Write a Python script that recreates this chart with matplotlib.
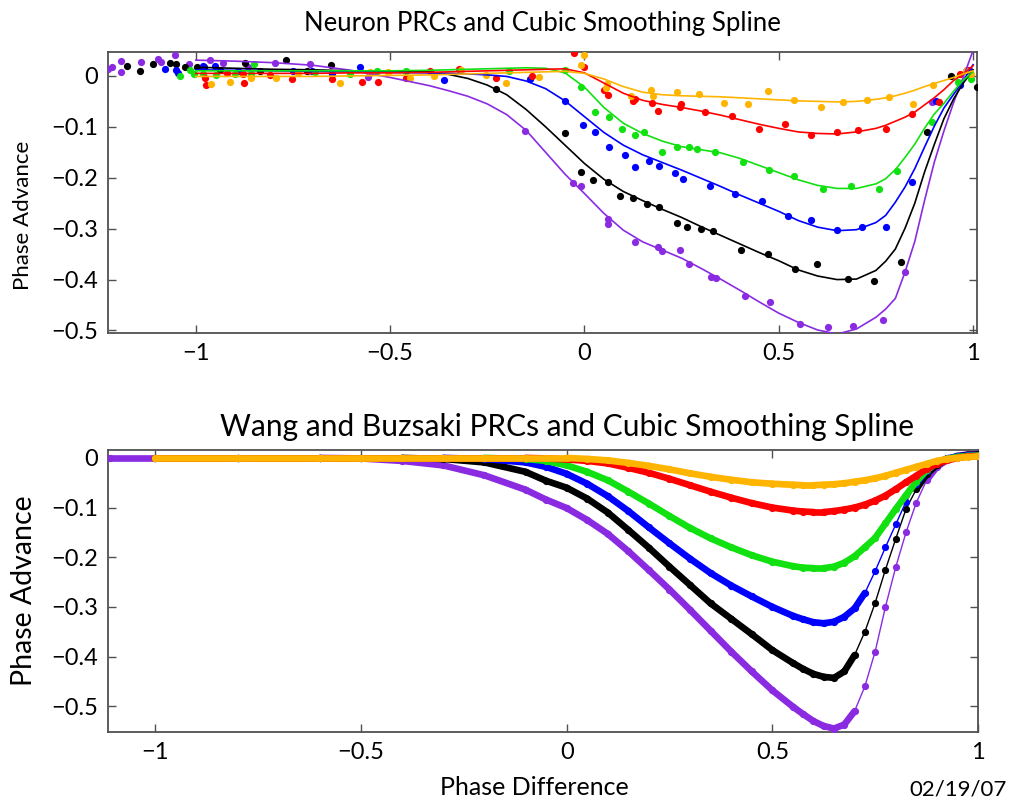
import matplotlib
matplotlib.use("Agg")
import matplotlib.pyplot as plt
import numpy as np

plt.rcParams['font.family'] = ['Lato', 'DejaVu Sans']

# ---------------- colours ----------------
PURPLE = '#8a2be2'
BLACK = '#000000'
BLUE = '#0000ff'
GREEN = '#11e011'
RED = '#ff0000'
ORANGE = '#ffb400'

# ---------------- top panel: spline curves ----------------
top_x = [-1.0, -0.9, -0.8, -0.7, -0.6, -0.5, -0.4, -0.35, -0.3, -0.25, -0.2, -0.15, -0.1, -0.05,
         0.0, 0.05, 0.1, 0.15, 0.2, 0.25, 0.3, 0.35, 0.4, 0.45, 0.5, 0.55, 0.6, 0.65, 0.7, 0.75,
         0.775, 0.8, 0.825, 0.85, 0.875, 0.9, 0.925, 0.95, 0.975, 1.0]
top_purple = [0.031, 0.029, 0.026, 0.021, 0.011, -0.003, -0.019, -0.029, -0.040, -0.055, -0.076, -0.107, -0.150, -0.193,
              -0.231, -0.270, -0.303, -0.326, -0.342, -0.358, -0.378, -0.399, -0.421, -0.444, -0.466, -0.484, -0.499, -0.507, -0.497, -0.474,
              -0.458, -0.437, -0.385, -0.325, -0.245, -0.170, -0.108, -0.052, -0.002, 0.050]
top_black = [0.017, 0.015, 0.013, 0.012, 0.010, 0.009, 0.008, 0.003, -0.005, -0.018, -0.037, -0.066, -0.100, -0.136,
             -0.172, -0.203, -0.227, -0.245, -0.262, -0.278, -0.296, -0.313, -0.330, -0.347, -0.363, -0.381, -0.393, -0.400, -0.399, -0.382,
             -0.364, -0.340, -0.299, -0.250, -0.189, -0.135, -0.084, -0.045, -0.014, 0.012]
top_blue = [0.012, 0.011, 0.010, 0.009, 0.008, 0.007, 0.006, 0.005, 0.004, 0.002, -0.001, -0.010, -0.025, -0.049,
            -0.080, -0.111, -0.136, -0.155, -0.170, -0.185, -0.201, -0.217, -0.234, -0.250, -0.266, -0.284, -0.297, -0.304, -0.302, -0.288,
            -0.274, -0.248, -0.218, -0.182, -0.140, -0.099, -0.063, -0.036, -0.009, 0.022]
top_green = [0.010, 0.010, 0.010, 0.010, 0.010, 0.010, 0.011, 0.012, 0.013, 0.014, 0.015, 0.016, 0.015, 0.006,
             -0.022, -0.062, -0.093, -0.113, -0.128, -0.139, -0.145, -0.151, -0.162, -0.176, -0.190, -0.204, -0.215, -0.221, -0.221, -0.212,
             -0.202, -0.184, -0.160, -0.134, -0.103, -0.075, -0.054, -0.030, -0.008, 0.008]
top_red = [0.005, 0.005, 0.005, 0.005, 0.006, 0.006, 0.007, 0.008, 0.009, 0.010, 0.011, 0.012, 0.013, 0.014,
           0.006, -0.014, -0.034, -0.048, -0.056, -0.062, -0.069, -0.077, -0.086, -0.095, -0.103, -0.110, -0.113, -0.114, -0.110, -0.103,
           -0.097, -0.089, -0.081, -0.071, -0.057, -0.043, -0.027, -0.009, 0.004, 0.020]
top_orange = [-0.001, -0.001, -0.001, -0.001, 0.000, 0.001, 0.002, 0.003, 0.004, 0.005, 0.006, 0.007, 0.008, 0.009,
              0.005, -0.006, -0.021, -0.032, -0.037, -0.039, -0.040, -0.041, -0.043, -0.045, -0.047, -0.049, -0.050, -0.051, -0.050, -0.046,
              -0.043, -0.039, -0.034, -0.028, -0.021, -0.015, -0.009, -0.003, 0.004, 0.010]

# ---------------- top panel: measured PRC points ----------------
dots_purple_x = [-1.225, -1.217, -1.193, -1.193, -1.14, -1.097, -1.09, -1.054, -1.018, -0.964, -0.93, -0.866, -0.797, -0.707,
                 -0.558, -0.152, -0.03, -0.009, 0.06, 0.06, 0.131, 0.19, 0.2, 0.246, 0.27, 0.326, 0.339, 0.413, 0.478,
                 0.554, 0.626, 0.692, 0.769, 0.825, 0.895, 0.981]
dots_purple_y = [0.014, 0.017, 0.029, 0.007, 0.028, 0.034, 0.028, 0.042, 0.024, 0.031, 0.026, 0.017, 0.026, 0.024,
                 -0.003, -0.108, -0.211, -0.217, -0.282, -0.291, -0.327, -0.336, -0.343, -0.341, -0.369, -0.395, -0.396, -0.432, -0.445,
                 -0.488, -0.494, -0.491, -0.480, -0.386, -0.051, 0.010]
dots_black_x = [-1.178, -1.143, -1.11, -1.067, -1.05, -1.028, -0.998, -0.979, -0.938, -0.874, -0.835, -0.767, -0.715, -0.653,
                -0.227, -0.051, -0.009, 0.023, 0.06, 0.092, 0.126, 0.16, 0.193, 0.237, 0.263, 0.3, 0.332, 0.403, 0.473,
                0.542, 0.598, 0.679, 0.746, 0.814, 0.881, 0.944, 1.009]
dots_black_y = [0.019, 0.010, 0.024, 0.026, 0.024, 0.017, 0.018, 0.017, 0.012, 0.026, 0.010, 0.032, 0.010, 0.021,
                -0.026, -0.112, -0.188, -0.205, -0.208, -0.236, -0.240, -0.251, -0.257, -0.288, -0.297, -0.301, -0.305, -0.341, -0.349,
                -0.380, -0.370, -0.399, -0.403, -0.366, -0.111, -0.001, -0.022]
dots_blue_x = [-1.08, -1.05, -1.047, -0.982, -0.951, -0.892, -0.75, -0.70, -0.65, -0.578, -0.362, -0.141, -0.049, -0.005,
               0.026, 0.062, 0.105, 0.129, 0.165, 0.191, 0.234, 0.254, 0.323, 0.387, 0.457, 0.523, 0.583, 0.65, 0.714,
               0.777, 0.842, 0.904, 0.966, 0.99]
dots_blue_y = [0.014, 0.012, 0.006, 0.019, 0.019, 0.010, 0.010, 0.009, 0.004, 0.017, -0.009, -0.007, -0.049, -0.096,
               -0.111, -0.140, -0.156, -0.178, -0.167, -0.177, -0.190, -0.203, -0.216, -0.231, -0.245, -0.276, -0.283, -0.303, -0.296,
               -0.297, -0.209, -0.049, -0.018, 0.012]
dots_green_x = [-1.041, -1.015, -1.005, -0.982, -0.947, -0.90, -0.857, -0.85, -0.694, -0.604, -0.535, -0.46, -0.193, -0.051,
                -0.009, 0.026, 0.062, 0.096, 0.13, 0.154, 0.199, 0.238, 0.27, 0.289, 0.337, 0.407, 0.474, 0.538, 0.614,
                0.686, 0.758, 0.803, 0.894, 0.96, 0.994]
dots_green_y = [-0.001, 0.012, 0.003, 0.003, 0.001, 0.004, 0.004, 0.024, 0.008, 0.004, 0.009, 0.010, 0.010, 0.012,
                -0.022, -0.071, -0.081, -0.104, -0.117, -0.110, -0.150, -0.140, -0.140, -0.144, -0.150, -0.170, -0.184, -0.196, -0.222,
                -0.216, -0.222, -0.186, -0.091, -0.012, -0.007]
dots_red_x = [-0.977, -0.975, -0.921, -0.879, -0.877, -0.81, -0.753, -0.65, -0.573, -0.53, -0.46, -0.397, -0.324, -0.227,
              -0.134, -0.026, 0.0, 0.049, 0.06, 0.124, 0.13, 0.174, 0.189, 0.249, 0.247, 0.31, 0.379, 0.45, 0.517,
              0.584, 0.65, 0.705, 0.776, 0.842, 0.913, 0.966, 0.985]
dots_red_y = [-0.005, -0.017, 0.006, 0.004, -0.014, 0.002, -0.007, -0.007, -0.011, -0.011, -0.004, 0.009, 0.014, -0.005,
              -0.001, 0.045, 0.017, -0.027, -0.038, -0.050, -0.045, -0.053, -0.069, -0.055, -0.062, -0.071, -0.078, -0.104, -0.094,
              -0.117, -0.111, -0.106, -0.104, -0.075, -0.051, 0.004, 0.012]
dots_orange_x = [-0.96, -0.913, -0.859, -0.793, -0.738, -0.63, -0.553, -0.506, -0.45, -0.386, -0.317, -0.253, -0.203, -0.116,
                 -0.002, -0.009, 0.057, 0.056, 0.12, 0.171, 0.177, 0.237, 0.296, 0.36, 0.422, 0.471, 0.538, 0.608, 0.664,
                 0.727, 0.784, 0.846, 0.898, 0.981, 0.994]
dots_orange_y = [-0.016, -0.012, -0.005, -0.004, 0.006, -0.014, 0.008, 0.008, -0.005, -0.001, 0.012, 0.001, -0.014, -0.003,
                 0.041, 0.021, -0.016, -0.024, -0.040, -0.027, -0.040, -0.032, -0.035, -0.054, -0.055, -0.029, -0.047, -0.062, -0.051,
                 -0.047, -0.041, -0.055, -0.018, 0.009, 0.004]

# ---------------- bottom panel: Wang & Buzsaki PRCs ----------------
wb_x = [-1.0, -0.8, -0.6, -0.5, -0.4, -0.3, -0.2, -0.1, -0.05, 0.0, 0.05, 0.1, 0.15, 0.2, 0.25, 0.3, 0.35, 0.4, 0.45, 0.5,
        0.55, 0.575, 0.6, 0.625, 0.65, 0.675, 0.7, 0.725, 0.75, 0.775, 0.8, 0.825, 0.85, 0.875, 0.9, 0.925, 0.95, 0.975, 1.0]
wb_purple_start = -1.11
wb_purple = [0.0, 0.0, 0.0, -0.001, -0.006, -0.015, -0.035, -0.064, -0.084, -0.101, -0.125, -0.153, -0.188, -0.226, -0.265, -0.306, -0.348, -0.390, -0.430, -0.468,
             -0.501, -0.516, -0.530, -0.540, -0.545, -0.537, -0.510, -0.460, -0.390, -0.300, -0.220, -0.150, -0.090, -0.045, -0.018, -0.004, 0.004, 0.007, 0.008]
wb_black = [0.0, 0.0, 0.0, 0.0, 0.0, -0.002, -0.009, -0.028, -0.046, -0.060, -0.082, -0.110, -0.145, -0.181, -0.219, -0.256, -0.293, -0.324, -0.355, -0.387,
            -0.413, -0.425, -0.435, -0.441, -0.443, -0.430, -0.397, -0.350, -0.292, -0.225, -0.163, -0.103, -0.063, -0.033, -0.014, -0.003, 0.003, 0.006, 0.007]
wb_blue = [0.0, 0.0, 0.0, 0.0, 0.0, 0.0, -0.002, -0.009, -0.018, -0.032, -0.052, -0.077, -0.107, -0.140, -0.172, -0.203, -0.232, -0.257, -0.279, -0.300,
           -0.318, -0.325, -0.331, -0.333, -0.330, -0.320, -0.303, -0.272, -0.228, -0.180, -0.134, -0.088, -0.052, -0.026, -0.010, -0.001, 0.003, 0.005, 0.006]
wb_green = [0.0, 0.0, 0.0, 0.0, 0.0, 0.0, 0.0, -0.002, -0.006, -0.015, -0.028, -0.045, -0.068, -0.092, -0.117, -0.141, -0.162, -0.180, -0.196, -0.209,
            -0.218, -0.221, -0.222, -0.222, -0.219, -0.211, -0.198, -0.180, -0.161, -0.132, -0.103, -0.075, -0.048, -0.025, -0.010, -0.002, 0.002, 0.004, 0.005]
wb_red = [0.0, 0.0, 0.0, 0.0, 0.0, 0.0, 0.0, 0.0, -0.001, -0.003, -0.006, -0.011, -0.020, -0.030, -0.042, -0.055, -0.068, -0.080, -0.091, -0.100,
          -0.106, -0.108, -0.109, -0.109, -0.107, -0.104, -0.100, -0.094, -0.086, -0.076, -0.063, -0.049, -0.036, -0.022, -0.012, -0.005, 0.000, 0.003, 0.004]
wb_orange = [0.0, 0.0, 0.0, 0.0, 0.0, 0.0, 0.0, 0.0, 0.0, 0.0, -0.002, -0.005, -0.010, -0.016, -0.023, -0.031, -0.038, -0.044, -0.049, -0.052,
             -0.054, -0.055, -0.055, -0.054, -0.053, -0.051, -0.048, -0.045, -0.041, -0.036, -0.030, -0.024, -0.018, -0.012, -0.006, -0.002, 0.000, 0.002, 0.003]

# ---------------- ticks / labels ----------------
x_ticks = [-1, -0.5, 0, 0.5, 1]
x_tick_labels = ['\u22121', '\u22120.5', '0', '0.5', '1']
y_ticks = [0, -0.1, -0.2, -0.3, -0.4, -0.5]
y_tick_labels = ['0', '\u22120.1', '\u22120.2', '\u22120.3', '\u22120.4', '\u22120.5']

title_top = 'Neuron PRCs and Cubic Smoothing Spline'
title_bottom = 'Wang and Buzsaki PRCs and Cubic Smoothing Spline'
ylabel = 'Phase Advance'
xlabel = 'Phase Difference'
date_text = '02/19/07'

FS_TICK = 17
FS_YLABEL_TOP = 16
FS_YLABEL_BOT = 20.5
FS_XLABEL = 18
FS_TITLE_TOP = 18.5
FS_TITLE_BOT = 21.5
FS_DATE = 16
SPINE = '#505050'

fig = plt.figure(figsize=(10.18, 8.06), dpi=100)
ax1 = fig.add_axes([0.1061, 0.5868, 0.9597 - 0.1061, 0.9355 - 0.5868])
ax2 = fig.add_axes([0.1061, 0.0918, 0.9607 - 0.1061, 0.4417 - 0.0918])


def style(ax, ylab_fs, ylab_x, ylab_y):
    for s in ax.spines.values():
        s.set_color(SPINE)
        s.set_linewidth(1.3)
    ax.tick_params(direction='in', top=True, right=True, length=6, width=1,
                   color=SPINE, labelsize=FS_TICK, pad=7)
    ax.set_xticks(x_ticks)
    ax.set_xticklabels(x_tick_labels)
    ax.set_yticks(y_ticks)
    ax.set_yticklabels(y_tick_labels)
    ax.set_ylabel(ylabel, fontsize=ylab_fs)
    ax.yaxis.set_label_coords(ylab_x, ylab_y)


# ---- top ----
series_top = [
    (top_purple, dots_purple_x, dots_purple_y, PURPLE),
    (top_black, dots_black_x, dots_black_y, BLACK),
    (top_blue, dots_blue_x, dots_blue_y, BLUE),
    (top_green, dots_green_x, dots_green_y, GREEN),
    (top_red, dots_red_x, dots_red_y, RED),
    (top_orange, dots_orange_x, dots_orange_y, ORANGE),
]
for line_y, dx, dy, col in series_top:
    ax1.plot(dx, dy, 'o', color=col, ms=5.2, mec='none', zorder=3)
for line_y, dx, dy, col in series_top:
    ax1.plot(top_x, line_y, '-', color=col, lw=1.2, zorder=4)
ax1.set_xlim(-1.226, 1.01)
ax1.set_ylim(-0.505, 0.047)
style(ax1, FS_YLABEL_TOP, -0.086, 0.42)
ax1.set_title(title_top, fontsize=FS_TITLE_TOP, pad=15)

# ---- bottom ----
sx = 410.0   # px per unit x (bottom)
sy = 496.0   # px per unit y (bottom)


def wb_draw(ax, xs, ys, col, z):
    xs = np.asarray(xs, float)
    ys = np.asarray(ys, float)
    # thin spline line
    ax.plot(xs, ys, '-', color=col, lw=1.0, zorder=z)
    # dense dots: thick band where the curve is shallow, separate dots where steep
    for i in range(len(xs) - 1):
        ddx = (xs[i + 1] - xs[i]) * sx
        ddy = abs(ys[i + 1] - ys[i]) * sy
        if ddy < 1.6 * ddx:
            ax.plot(xs[i:i + 2], ys[i:i + 2], '-', color=col, lw=4.8,
                    solid_capstyle='round', zorder=z)
    ax.plot(xs, ys, 'o', color=col, ms=5.2, mec='none', zorder=z)


wb_draw(ax2, [wb_purple_start] + wb_x, [0.0] + wb_purple, PURPLE, 3)
wb_draw(ax2, wb_x, wb_black, BLACK, 3.1)
wb_draw(ax2, wb_x, wb_blue, BLUE, 3.2)
wb_draw(ax2, wb_x, wb_green, GREEN, 3.3)
wb_draw(ax2, wb_x, wb_red, RED, 3.4)
wb_draw(ax2, wb_x, wb_orange, ORANGE, 3.5)
ax2.set_xlim(-1.115, 1.0)
ax2.set_ylim(-0.552, 0.016)
style(ax2, FS_YLABEL_BOT, -0.082, 0.5)
ax2.set_title(title_bottom, fontsize=FS_TITLE_BOT, pad=10, x=0.528)
ax2.set_xlabel(xlabel, fontsize=FS_XLABEL)
ax2.xaxis.set_label_coords(0.49, -0.157)

fig.text(0.989, 0.008, date_text, ha='right', va='bottom', fontsize=FS_DATE)

fig.savefig('out.png', dpi=100)
